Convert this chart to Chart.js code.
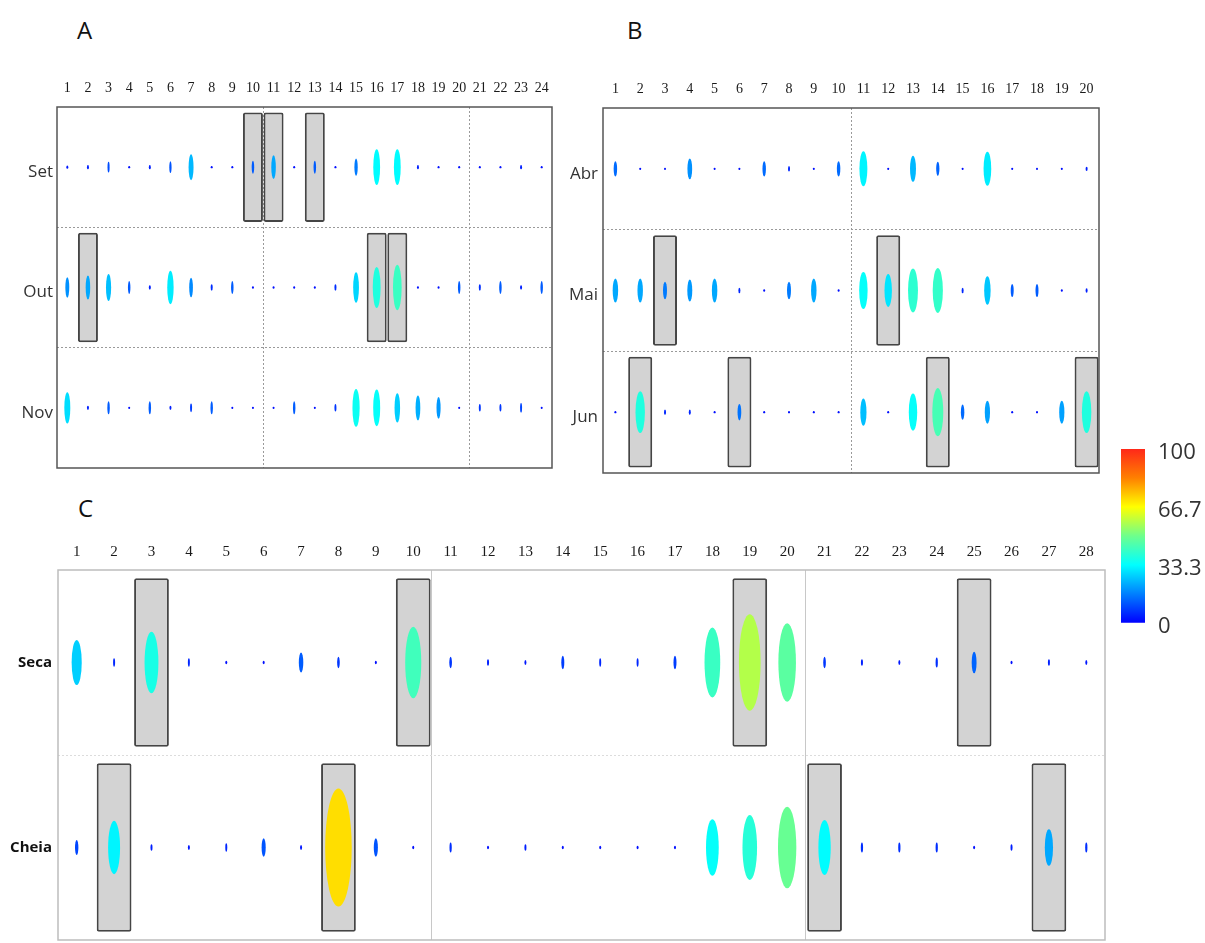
<!DOCTYPE html>
<html>
<head>
<meta charset="utf-8">
<script src="https://cdn.jsdelivr.net/npm/chart.js@4.4.1/dist/chart.umd.min.js"></script>
<style>
body { margin: 0; width: 1205px; height: 943px; overflow: hidden; background: #fff; font-family: "Open Sans", sans-serif; }
.panel { position: absolute; }
.letter { position: absolute; font-size: 24px; color: #111; line-height: 1; }
</style>
</head>
<body>
<div class="letter" style="left:77px;top:18px">A</div>
<div class="letter" style="left:627px;top:18px">B</div>
<div class="letter" style="left:78px;top:496px">C</div>

<div class="panel" style="left:0px;top:70px"><canvas id="chartA" width="565" height="414"></canvas></div>
<div class="panel" style="left:546px;top:70px"><canvas id="chartB" width="566" height="419"></canvas></div>
<div class="panel" style="left:0px;top:530px"><canvas id="chartC" width="1118" height="426"></canvas></div>
<div class="panel" style="left:1100px;top:430px"><canvas id="colorbar" width="105" height="211"></canvas></div>

<script>
// ---- panel A ----
var labelsA = ['1','2','3','4','5','6','7','8','9','10','11','12','13','14','15','16','17','18','19','20','21','22','23','24'];
var rowsA = ['Set', 'Out', 'Nov'];
var setValues = [3, 4, 10, 2, 4, 11, 24, 2, 2, 12, 22, 2, 12, 2, 16, 33, 33, 4, 2, 2, 2, 2, 4, 2];
var outValues = [19, 22, 25, 12, 4, 31, 18, 6, 12, 2, 2, 2, 2, 6, 28, 38, 42, 2, 2, 12, 6, 12, 4, 12];
var novValues = [29, 4, 12, 2, 12, 4, 8, 12, 2, 2, 2, 12, 2, 7, 35, 34, 27, 23, 20, 2, 7, 7, 9, 2];
var setBoxes = ['10', '11', '13'];
var outBoxes = ['2', '16', '17'];
var novBoxes = [];

// ---- panel B ----
var labelsB = ['1','2','3','4','5','6','7','8','9','10','11','12','13','14','15','16','17','18','19','20'];
var rowsB = ['Abr', 'Mai', 'Jun'];
var abrValues = [14, 2, 2, 19, 2, 2, 14, 5, 2, 14, 32, 2, 24, 13, 2, 31, 2, 2, 2, 4];
var maiValues = [22, 22, 16, 20, 22, 5, 2, 16, 22, 2, 34, 30, 40, 41, 5, 26, 12, 12, 2, 4];
var junValues = [2, 38, 5, 5, 2, 15, 2, 2, 2, 2, 25, 2, 34, 44, 14, 21, 2, 2, 21, 38];
var abrBoxes = [];
var maiBoxes = ['3', '12'];
var junBoxes = ['2', '6', '14', '20'];

// ---- panel C ----
var labelsC = ['1','2','3','4','5','6','7','8','9','10','11','12','13','14','15','16','17','18','19','20','21','22','23','24','25','26','27','28'];
var rowsC = ['Seca', 'Cheia'];
var secaValues = [27, 5, 37, 5, 2, 2, 12, 7, 2, 43, 7, 4, 3, 8, 5, 5, 8, 42, 58, 47, 7, 4, 3, 6, 13, 2, 4, 3];
var cheiaValues = [9, 32, 4, 3, 5, 11, 3, 71, 11, 2, 6, 2, 4, 2, 2, 2, 2, 34, 39, 49, 33, 6, 6, 6, 2, 4, 22, 6];
var secaBoxes = ['3', '10', '19', '25'];
var cheiaBoxes = ['2', '8', '21', '27'];

// ---- colour scale ----
var colorTicks = [0, 33.3, 66.7, 100];
var colorTickLabels = ['0', '33.3', '66.7', '100'];
var cmapStops = [0, 0.333, 0.5, 0.667, 0.833, 1];
var cmapColors = [[0, 0, 255], [0, 255, 255], [110, 255, 140], [255, 255, 0], [255, 128, 0], [255, 40, 25]];

Chart.defaults.font.family = '"Open Sans", sans-serif';

function rgb(c) {
    return 'rgb(' + c[0] + ',' + c[1] + ',' + c[2] + ')';
}

function valueColor(v) {
    var t = Math.max(0, Math.min(1, v / 100));
    for (var i = 1; i < cmapStops.length; i++) {
        if (t <= cmapStops[i]) {
            var f = (t - cmapStops[i - 1]) / (cmapStops[i] - cmapStops[i - 1]);
            var a = cmapColors[i - 1], b = cmapColors[i];
            return rgb([0, 1, 2].map(function (k) { return Math.round(a[k] + (b[k] - a[k]) * f); }));
        }
    }
    return rgb(cmapColors[cmapColors.length - 1]);
}

// frame around the plot area
var framePlugin = {
    id: 'frame',
    afterDatasetsDraw: function (chart, args, opts) {
        var a = chart.chartArea, ctx = chart.ctx;
        ctx.save();
        ctx.strokeStyle = opts.color;
        ctx.lineWidth = opts.width;
        ctx.strokeRect(a.left, a.top, a.right - a.left, a.bottom - a.top);
        ctx.restore();
    }
};

// ellipse marks, sized and coloured by value, placed at the points the scales computed
var ellipsePlugin = {
    id: 'ellipses',
    afterDatasetsDraw: function (chart) {
        var ctx = chart.ctx;
        var xs = chart.scales.x, ys = chart.scales.y;
        var catW = xs.width / chart.data.labels.length;
        var rowH = Math.abs(ys.getPixelForValue(1) - ys.getPixelForValue(0));
        ctx.save();
        chart.data.datasets.forEach(function (ds, di) {
            if (ds.type !== 'scatter') return;
            var meta = chart.getDatasetMeta(di);
            meta.data.forEach(function (pt, i) {
                var v = ds.data[i].v;
                var rx = Math.max(catW * v / 100, 2) / 2;
                var ry = Math.max(rowH * 0.9 * v / 100, 2.4) / 2;
                ctx.beginPath();
                ctx.ellipse(pt.x, pt.y, rx, ry, 0, 0, Math.PI * 2);
                ctx.fillStyle = valueColor(v);
                ctx.fill();
            });
        });
        ctx.restore();
    }
};

function buildPanel(id, labels, rows, values, boxes, look) {
    var datasets = [];
    rows.forEach(function (name, r) {
        datasets.push({
            type: 'bar',
            data: boxes[r].map(function (c) { return { x: c, y: [r - 0.455, r + 0.455] }; }),
            backgroundColor: '#d3d3d3',
            borderColor: '#454545',
            borderWidth: 2,
            borderSkipped: false,
            borderRadius: 2,
            barPercentage: look.barPct,
            categoryPercentage: 1,
            grouped: false
        });
    });
    rows.forEach(function (name, r) {
        datasets.push({
            type: 'scatter',
            data: values[r].map(function (v, i) { return { x: labels[i], y: r, v: v }; }),
            pointRadius: 0
        });
    });

    var last = rows.length - 0.5;
    return new Chart(document.getElementById(id), {
        type: 'bar',
        data: { labels: labels, datasets: datasets },
        plugins: [framePlugin, ellipsePlugin],
        options: {
            responsive: false,
            animation: false,
            events: [],
            layout: { padding: { left: 0, top: 0, right: 13, bottom: 16 } },
            plugins: {
                legend: { display: false },
                tooltip: { enabled: false },
                frame: { color: look.frameColor, width: 1.5 }
            },
            scales: {
                x: {
                    type: 'category',
                    position: 'top',
                    offset: true,
                    grid: {
                        offset: true,
                        drawTicks: false,
                        lineWidth: 1,
                        color: function (c) { return look.vlines.indexOf(c.index) >= 0 ? look.vColor : 'rgba(0,0,0,0)'; }
                    },
                    border: { display: false, dash: look.vDash },
                    ticks: {
                        autoSkip: false,
                        maxRotation: 0,
                        padding: look.tickPad,
                        color: '#1a1a1a',
                        font: { family: '"Liberation Serif", serif', size: look.tickSize }
                    },
                    afterFit: function (s) { s.height = look.xHeight; }
                },
                y: {
                    type: 'linear',
                    reverse: true,
                    min: -0.5,
                    max: last,
                    afterBuildTicks: function (s) {
                        var t = [];
                        for (var k = -0.5; k <= last + 1e-9; k += 0.5) t.push({ value: k });
                        s.ticks = t;
                    },
                    grid: {
                        drawTicks: false,
                        lineWidth: 1,
                        color: function (c) {
                            var v = c.tick ? c.tick.value : -1;
                            return (v > -0.5 && v < last && v % 1 !== 0) ? look.hColor : 'rgba(0,0,0,0)';
                        }
                    },
                    border: { display: false, dash: look.hDash },
                    ticks: {
                        padding: look.rowPad,
                        labelOffset: look.rowOffset,
                        color: look.rowColor,
                        font: look.rowFont,
                        callback: function (v) { return v % 1 === 0 ? rows[v] : ''; }
                    },
                    afterFit: function (s) { s.width = look.yWidth; }
                }
            }
        }
    });
}

buildPanel('chartA', labelsA, rowsA, [setValues, outValues, novValues], [setBoxes, outBoxes, novBoxes], {
    yWidth: 57, xHeight: 37, tickPad: 10, tickSize: 14, barPct: 0.97,
    vlines: [10, 20], vColor: '#9a9a9a', vDash: [2, 2], hColor: '#9a9a9a', hDash: [2, 2],
    frameColor: '#555555', rowFont: { size: 17 }, rowColor: '#333333', rowPad: 4, rowOffset: 5
});

buildPanel('chartB', labelsB, rowsB, [abrValues, maiValues, junValues], [abrBoxes, maiBoxes, junBoxes], {
    yWidth: 57, xHeight: 38, tickPad: 10, tickSize: 14, barPct: 0.97,
    vlines: [10], vColor: '#9a9a9a', vDash: [2, 2], hColor: '#9a9a9a', hDash: [2, 2],
    frameColor: '#555555', rowFont: { size: 17 }, rowColor: '#333333', rowPad: 5, rowOffset: 5
});

buildPanel('chartC', labelsC, rowsC, [secaValues, cheiaValues], [secaBoxes, cheiaBoxes], {
    yWidth: 58, xHeight: 40, tickPad: 9, tickSize: 15, barPct: 0.93,
    vlines: [10, 20], vColor: '#c8c8c8', vDash: [], hColor: '#dcdcdc', hDash: [2, 2],
    frameColor: '#bdbdbd', rowFont: { size: 15, weight: 'bold' }, rowColor: '#111111', rowPad: 6, rowOffset: 0
});

// colour bar
new Chart(document.getElementById('colorbar'), {
    type: 'bar',
    data: {
        labels: [''],
        datasets: [{
            data: [[colorTicks[0], colorTicks[colorTicks.length - 1]]],
            barPercentage: 1,
            categoryPercentage: 1,
            backgroundColor: function (c) {
                var a = c.chart.chartArea;
                if (!a) return '#0000ff';
                var g = c.chart.ctx.createLinearGradient(0, a.bottom, 0, a.top);
                cmapStops.forEach(function (s, i) { g.addColorStop(s, rgb(cmapColors[i])); });
                return g;
            }
        }]
    },
    options: {
        responsive: false,
        animation: false,
        events: [],
        layout: { padding: { left: 21, top: 19, right: 0, bottom: 18 } },
        plugins: { legend: { display: false }, tooltip: { enabled: false } },
        scales: {
            x: { display: false },
            y: {
                position: 'right',
                min: 0,
                max: 100,
                afterBuildTicks: function (s) { s.ticks = colorTicks.map(function (v) { return { value: v }; }); },
                grid: { display: false },
                border: { display: false },
                ticks: {
                    padding: 5,
                    labelOffset: 4,
                    color: '#333333',
                    font: { size: 22 },
                    callback: function (v) { return colorTickLabels[colorTicks.indexOf(v)]; }
                },
                afterFit: function (s) { s.width = 60; }
            }
        }
    }
});
</script>
</body>
</html>
